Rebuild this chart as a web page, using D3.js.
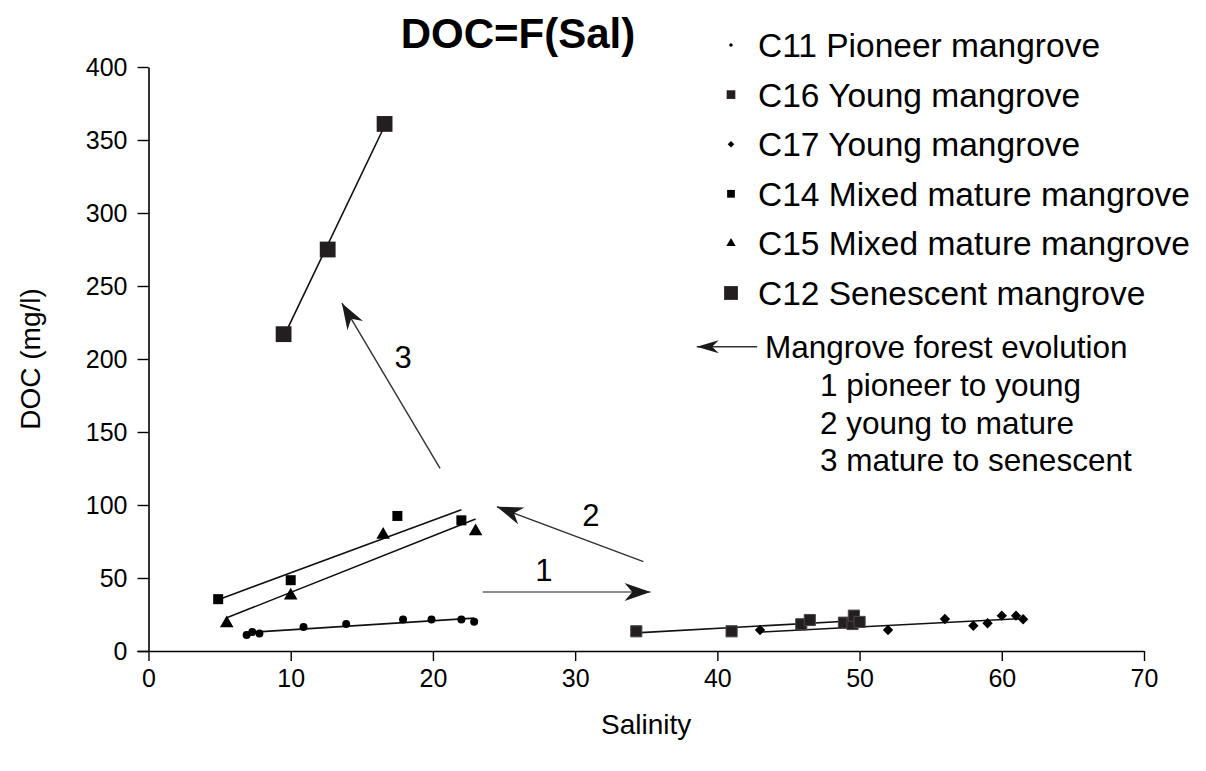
<!DOCTYPE html>
<html><head><meta charset="utf-8">
<script src="https://cdn.jsdelivr.net/npm/d3@7"></script>
<style>body{margin:0;background:#fff;} svg text{font-family:"Liberation Sans",Arial,sans-serif;fill:#000;}</style>
</head><body><svg id="c" width="1206" height="771"></svg>
<script>
// ---------- data ----------
const seriesNames = ["C11 Pioneer mangrove","C16 Young mangrove","C17 Young mangrove","C14 Mixed mature mangrove","C15 Mixed mature mangrove","C12 Senescent mangrove"];
const c11Sal = [6.9,7.3,7.8,10.9,13.9,17.9,19.9,22.0,22.9];
const c11Doc = [11,13,12,16.5,18.5,21.5,21.5,21.5,20];
const c16Sal = [34.3,41.0,45.9,46.5,48.9,49.5,49.6,50.0];
const c16Doc = [13.5,13.5,18.3,21.2,19.4,18.5,24.2,19.9];
const c17Sal = [43.0,52.0,56.0,58.0,59.0,60.0,61.0,61.5];
const c17Doc = [14.4,14.4,21.9,17.3,19.0,24.2,24.2,21.7];
const c14Sal = [4.9,10.0,17.5,22.0];
const c14Doc = [35.5,48.5,92.5,89.5];
const c15Sal = [5.5,10.0,16.5,23.0];
const c15Doc = [19,38,79.5,82];
const c12Sal = [9.5,12.6,16.6];
const c12Doc = [217,275,361];
const xTicks = [0,10,20,30,40,50,60,70];
const yTicks = [0,50,100,150,200,250,300,350,400];
const evolutionLines = ["Mangrove forest evolution","1 pioneer to young","2 young to mature","3 mature to senescent"];
// arrows in data units
const arrowFrom = [[23.5,40.4],[34.8,61.2],[20.5,125.1],[42.8,208.4]];
const arrowTo   = [[35.3,40.4],[24.5,98.8],[13.6,238.2],[38.55,208.4]];
const arrowLabels = ["1","2","3"];

// ---------- setup ----------
const svg = d3.select("#c");
const x = d3.scaleLinear().domain([0,70]).range([148.5,1144]);
const y = d3.scaleLinear().domain([0,400]).range([651,67]);
const font = '"Liberation Sans",Arial,sans-serif';

// axes
const gx = svg.append("g").attr("transform",`translate(0,${y(0)})`)
  .call(d3.axisBottom(x).tickValues(xTicks).tickSize(10).tickSizeOuter(0).tickPadding(8));
const gy = svg.append("g").attr("transform",`translate(${x(0)},0)`)
  .call(d3.axisLeft(y).tickValues(yTicks).tickSize(11).tickSizeOuter(0).tickPadding(10));
[gx,gy].forEach(g=>{
  g.selectAll("path.domain").attr("stroke","#000").attr("stroke-width",1.6);
  g.selectAll(".tick line").attr("stroke","#000").attr("stroke-width",1.4);
  g.selectAll(".tick text").attr("font-family",font).attr("font-size",25).attr("fill","#000");
});
gx.select("path.domain").attr("d",`M${x(0)-11},0.5H${x(70)}`);

svg.append("text").attr("x",x(35)).attr("y",734).attr("text-anchor","middle")
  .attr("font-size",28).text("Salinity");
svg.append("text").attr("transform",`translate(40,${y(200)}) rotate(-90)`).attr("text-anchor","middle")
  .attr("font-size",28).text("DOC (mg/l)");
svg.append("text").attr("x",518).attr("y",48).attr("text-anchor","middle")
  .attr("font-size",42).attr("font-weight","bold").text("DOC=F(Sal)");

// ---------- series ----------
const diamond = {draw(ctx,size){const r=Math.sqrt(size)/2*1.2;ctx.moveTo(0,-r);ctx.lineTo(r,0);ctx.lineTo(0,r);ctx.lineTo(-r,0);ctx.closePath();}};
const series = [
  {sal:c11Sal,doc:c11Doc,type:d3.symbolCircle,size:50,fill:"#000",lsize:10},
  {sal:c16Sal,doc:c16Doc,type:d3.symbolSquare,size:125,fill:"#231f20",stroke:"#4a4a4a",lsize:75},
  {sal:c17Sal,doc:c17Doc,type:diamond,size:75,fill:"#000",lsize:30},
  {sal:c14Sal,doc:c14Doc,type:d3.symbolSquare,size:100,fill:"#000",lsize:60},
  {sal:c15Sal,doc:c15Doc,type:d3.symbolTriangle,size:80,fill:"#000",lsize:38},
  {sal:c12Sal,doc:c12Doc,type:d3.symbolSquare,size:250,fill:"#231f20",lsize:190}
];

function regression(xs,ys){
  const mx=d3.mean(xs), my=d3.mean(ys);
  const sxy=d3.sum(xs,(v,i)=>(v-mx)*(ys[i]-my)), sxx=d3.sum(xs,v=>(v-mx)*(v-mx));
  const b=sxy/sxx; return [b,my-b*mx];
}
const lineG = svg.append("g");
series.forEach(s=>{
  const [b,a]=regression(s.sal,s.doc);
  const x0=d3.min(s.sal), x1=d3.max(s.sal);
  lineG.append("line").attr("x1",x(x0)).attr("y1",y(a+b*x0)).attr("x2",x(x1)).attr("y2",y(a+b*x1))
    .attr("stroke","#111").attr("stroke-width",1.6);
});
series.forEach(s=>{
  svg.append("g").selectAll("path").data(s.sal.map((v,i)=>[v,s.doc[i]])).join("path")
    .attr("transform",d=>`translate(${x(d[0])},${y(d[1])})`)
    .attr("d",d3.symbol().type(s.type).size(s.size))
    .attr("fill",s.fill).attr("stroke",s.stroke||"none").attr("stroke-width",1);
});

// ---------- legend ----------
const leg = svg.append("g");
seriesNames.forEach((n,i)=>{
  const yy = 45 + i*49.6;
  leg.append("path").attr("transform",`translate(731,${yy})`)
    .attr("d",d3.symbol().type(series[i].type).size(series[i].lsize)).attr("fill",series[i].fill);
  leg.append("text").attr("x",758).attr("y",yy+12).attr("font-size",33.5).text(n);
});

// ---------- annotation arrows ----------
function arrowHead(g,x1,y1,x2,y2,len,wid){
  const ang=Math.atan2(y2-y1,x2-x1);
  const p=(l,w)=>[x2-l*Math.cos(ang)+w*Math.sin(ang), y2-l*Math.sin(ang)-w*Math.cos(ang)];
  const pts=[[x2,y2],p(len,wid/2),p(len*0.7,0),p(len,-wid/2)];
  g.append("path").attr("d","M"+pts.map(q=>q.join(",")).join("L")+"Z").attr("fill","#1a1a1a");
}
const ag = svg.append("g");
arrowFrom.forEach((f,i)=>{
  const x1=x(f[0]),y1=y(f[1]),x2=x(arrowTo[i][0]),y2=y(arrowTo[i][1]);
  ag.append("line").attr("x1",x1).attr("y1",y1).attr("x2",x2).attr("y2",y2)
    .attr("stroke", i===0?"#666":"#333").attr("stroke-width",1.4);
  arrowHead(ag,x1,y1,x2,y2,i===3?22:26,i===3?13:18);
});
const labPos=[[27.8,55],[31.1,93],[17.9,201]];
labPos.forEach((p,i)=>{
  svg.append("text").attr("x",x(p[0])).attr("y",y(p[1])).attr("text-anchor","middle")
    .attr("dominant-baseline","central").attr("font-size",31).attr("fill","#222").text(arrowLabels[i]);
});
evolutionLines.forEach((t,i)=>{
  svg.append("text").attr("x",i===0?765:820).attr("y",i===0?358:396+(i-1)*37.5)
    .attr("font-size",31.5).attr("fill","#222").text(t);
});
</script></body></html>
